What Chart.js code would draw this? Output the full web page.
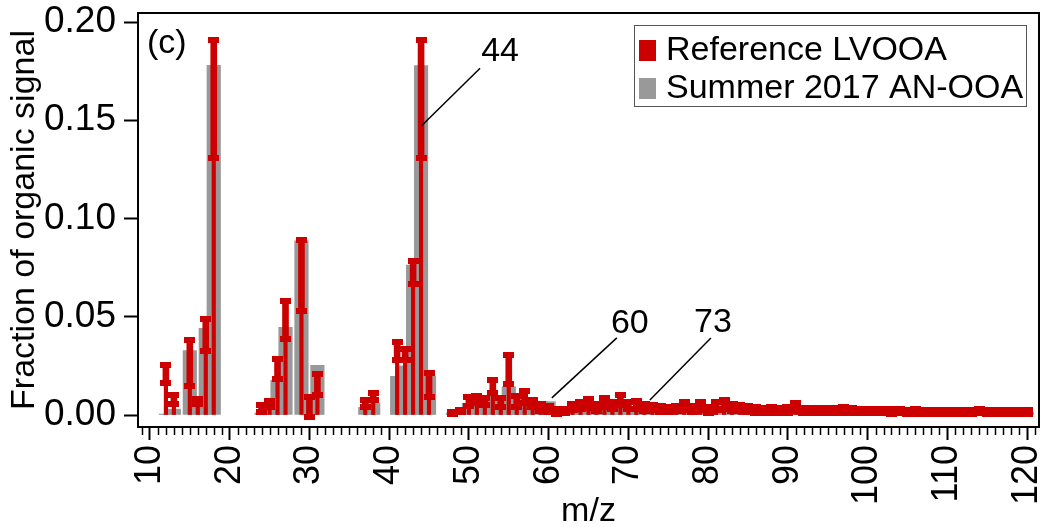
<!DOCTYPE html>
<html>
<head>
<meta charset="utf-8">
<script src="https://cdn.jsdelivr.net/npm/chart.js@4.4.1/dist/chart.umd.min.js"></script>
<style>
  html, body { margin: 0; padding: 0; background: #ffffff; }
  #wrap { width: 1045px; height: 527px; }
</style>
</head>
<body>
<div id="wrap"><canvas id="chart" width="1045" height="527"></canvas></div>
<script>
// m/z channels shown in the spectrum
const mz = [12, 13, 15, 16, 17, 18, 24, 25, 26, 27, 29, 30, 31, 37, 38, 41, 42, 43, 44, 45,
  48, 49, 50, 51, 52, 53, 54, 55, 56, 57, 58, 59, 60, 61, 62, 63, 64, 65, 66, 67, 68, 69, 70, 71,
  72, 73, 74, 75, 76, 77, 78, 79, 80, 81, 82, 83, 84, 85, 86, 87, 88, 89, 90, 91, 92, 93, 94, 95,
  96, 97, 98, 99, 100, 101, 102, 103, 104, 105, 106, 107, 108, 109, 110, 111, 112, 113, 114, 115,
  116, 117, 118, 119, 120];

// Reference LVOOA spectrum: mean fraction and standard deviation
const lvooaMean = [0.0209, 0.0078, 0.0265, 0.0068, 0.0408, 0.1610, 0.0034, 0.0057, 0.0234, 0.0482,
  0.0711, 0.0040, 0.0156, 0.0059, 0.0095, 0.0325, 0.0308, 0.0726, 0.1610, 0.0154,
  0.0010, 0.0020, 0.0070, 0.0078, 0.0068, 0.0144, 0.0063, 0.0230, 0.0068, 0.0090, 0.0059, 0.0038,
  0.0030, 0.0018, 0.0020, 0.0040, 0.0048, 0.0058, 0.0038, 0.0063, 0.0048, 0.0075, 0.0049, 0.0050,
  0.0038, 0.0039, 0.0030, 0.0028, 0.0033, 0.0045, 0.0030, 0.0045, 0.0025, 0.0045, 0.0053, 0.0038,
  0.0034, 0.0030, 0.0026, 0.0023, 0.0026, 0.0023, 0.0026, 0.0040, 0.0024, 0.0023, 0.0023, 0.0023,
  0.0025, 0.0026, 0.0023, 0.0019, 0.0020, 0.0019, 0.0020, 0.0018, 0.0019, 0.0017, 0.0018, 0.0017,
  0.0017, 0.0016, 0.0017, 0.0016, 0.0016, 0.0017, 0.0019, 0.0015, 0.0015, 0.0014, 0.0014, 0.0014,
  0.0014];
const lvooaSd = [0.0047, 0.0024, 0.0119, 0.0012, 0.0080, 0.0300, 0.0017, 0.0015, 0.0049, 0.0096,
  0.0180, 0.0050, 0.0055, 0.0017, 0.0019, 0.0047, 0.0027, 0.0059, 0.0300, 0.0060,
  0.0005, 0.0005, 0.0023, 0.0018, 0.0018, 0.0032, 0.0023, 0.0074, 0.0028, 0.0030, 0.0019, 0.0018,
  0.0015, 0.0013, 0.0010, 0.0015, 0.0018, 0.0023, 0.0018, 0.0023, 0.0018, 0.0025, 0.0019, 0.0020,
  0.0018, 0.0014, 0.0015, 0.0013, 0.0013, 0.0020, 0.0015, 0.0020, 0.0015, 0.0020, 0.0023, 0.0018,
  0.0016, 0.0015, 0.0014, 0.0013, 0.0014, 0.0013, 0.0014, 0.0020, 0.0014, 0.0013, 0.0013, 0.0013,
  0.0013, 0.0014, 0.0013, 0.0011, 0.0012, 0.0011, 0.0012, 0.0011, 0.0011, 0.0011, 0.0011, 0.0011,
  0.0011, 0.0011, 0.0011, 0.0011, 0.0011, 0.0011, 0.0011, 0.0010, 0.0010, 0.0010, 0.0010, 0.0010,
  0.0010];

// Summer 2017 AN-OOA factor profile
const anOoa = [0.0005, 0.0030, 0.0328, 0.0040, 0.0441, 0.1780, 0.0010, 0.0034, 0.0177, 0.0446,
  0.0887, 0.0030, 0.0253, 0.0039, 0.0059, 0.0197, 0.0250, 0.0763, 0.1778, 0.0198,
  0.0010, 0.0020, 0.0060, 0.0070, 0.0060, 0.0100, 0.0070, 0.0144, 0.0080, 0.0080, 0.0060, 0.0070,
  0.0068, 0.0020, 0.0020, 0.0030, 0.0040, 0.0050, 0.0040, 0.0050, 0.0040, 0.0060, 0.0040, 0.0040,
  0.0035, 0.0035, 0.0028, 0.0026, 0.0030, 0.0040, 0.0028, 0.0040, 0.0024, 0.0040, 0.0048, 0.0035,
  0.0032, 0.0028, 0.0024, 0.0021, 0.0024, 0.0021, 0.0024, 0.0035, 0.0022, 0.0021, 0.0021, 0.0021,
  0.0023, 0.0024, 0.0021, 0.0018, 0.0019, 0.0018, 0.0019, 0.0017, 0.0018, 0.0016, 0.0017, 0.0016,
  0.0016, 0.0015, 0.0016, 0.0015, 0.0015, 0.0016, 0.0018, 0.0014, 0.0014, 0.0013, 0.0013, 0.0013,
  0.0013];

const xTicks = [10, 20, 30, 40, 50, 60, 70, 80, 90, 100, 110, 120];
const yTicks = [0, 0.05, 0.10, 0.15, 0.20];

const seriesNames = ['Reference LVOOA', 'Summer 2017 AN-OOA'];
const peakNames = ['44', '60', '73'];
const peakMz = [44, 60.4, 72.7];
const peakValue = [0.147, 0.0087, 0.0076];
const panelTag = '(c)';

const RED = '#cc0000';
const GRAY = '#999999';
const FONT = '"Liberation Sans", Arial, Helvetica, sans-serif';

// small rectangular cap marker for the error bars
const capMark = document.createElement('canvas');
capMark.width = 11; capMark.height = 6;
(function () { const g = capMark.getContext('2d'); g.fillStyle = RED; g.fillRect(0, 0, 11, 6); })();

const lo = mz.map((m, i) => lvooaMean[i] - lvooaSd[i]);
const hi = mz.map((m, i) => lvooaMean[i] + lvooaSd[i]);

const grayBars = mz.map((m, i) => ({ x: m, y: anOoa[i] }));
const redSticks = mz.map((m, i) => ({ x: m, y: [0, lvooaMean[i]] }));
const redErr = mz.map((m, i) => ({ x: m, y: [lo[i], hi[i]] }));
const redCaps = mz.flatMap((m, i) => [{ x: m, y: lo[i] }, { x: m, y: hi[i] }]);

// no extra edge padding, so the plot box keeps its full size
function noEdgePadding(s) {
  s.paddingLeft = 0; s.paddingRight = 0; s.paddingTop = 0; s.paddingBottom = 0;
}

// box, minor ticks, legend and peak labels
const decor = {
  id: 'decor',
  afterDraw(chart) {
    const ctx = chart.ctx;
    const a = chart.chartArea;
    const xs = chart.scales.x, ys = chart.scales.y;
    ctx.save();

    // minor x ticks every unit
    ctx.strokeStyle = '#000'; ctx.lineWidth = 1.5;
    for (let v = Math.ceil(xs.min); v <= Math.floor(xs.max); v++) {
      if (v % 10 === 0) continue;
      const px = Math.round(xs.getPixelForValue(v)) + 0.5;
      ctx.beginPath(); ctx.moveTo(px, a.bottom); ctx.lineTo(px, a.bottom + 8); ctx.stroke();
    }

    // frame
    ctx.lineWidth = 2; ctx.strokeStyle = '#000';
    ctx.strokeRect(a.left, a.top, a.right - a.left, a.bottom - a.top);

    // panel tag
    ctx.fillStyle = '#000';
    ctx.font = '34px ' + FONT;
    ctx.textBaseline = 'middle'; ctx.textAlign = 'left';
    ctx.fillText(panelTag, a.left + 9, a.top + 31);

    // peak annotations
    ctx.lineWidth = 1.5;
    const dx = [59, 65, 61], dy = [-58, -60, -62];
    const tx = [79, 78, 63], ty = [-75, -74, -77];
    peakNames.forEach((name, i) => {
      const px = xs.getPixelForValue(peakMz[i]);
      const py = ys.getPixelForValue(peakValue[i]);
      ctx.beginPath(); ctx.moveTo(px, py); ctx.lineTo(px + dx[i], py + dy[i]); ctx.stroke();
      ctx.textAlign = 'center';
      ctx.fillText(name, px + tx[i], py + ty[i]);
    });

    // legend
    const lx = a.right - 405, ly = a.top + 12, lw = 392, lh = 81;
    ctx.fillStyle = '#fff'; ctx.fillRect(lx, ly, lw, lh);
    ctx.strokeStyle = '#555'; ctx.lineWidth = 1;
    ctx.strokeRect(lx + 0.5, ly + 0.5, lw, lh);
    const colors = [RED, GRAY];
    seriesNames.forEach((name, i) => {
      const cy = ly + 25 + i * 38;
      ctx.fillStyle = colors[i];
      ctx.fillRect(lx + 5, cy - 10, 17, 21);
      ctx.fillStyle = '#000';
      ctx.textAlign = 'left'; ctx.textBaseline = 'middle';
      ctx.fillText(name, lx + 32, cy + 1);
    });
    ctx.restore();
  }
};

new Chart(document.getElementById('chart'), {
  type: 'bar',
  data: {
    datasets: [
      { label: seriesNames[1], data: grayBars, backgroundColor: GRAY, barThickness: 13.5, grouped: false, order: 4 },
      { label: seriesNames[0], data: redSticks, backgroundColor: RED, barThickness: 3.5, grouped: false, order: 3 },
      { label: seriesNames[0], data: redErr, backgroundColor: RED, barThickness: 6, grouped: false, order: 2 },
      { type: 'scatter', label: seriesNames[0], data: redCaps, pointStyle: capMark, pointRadius: 5,
        showLine: false, order: 1 }
    ]
  },
  options: {
    responsive: false,
    animation: false,
    devicePixelRatio: 1,
    layout: { padding: { top: 13, right: 4, left: 0, bottom: 0 } },
    plugins: { legend: { display: false }, tooltip: { enabled: false } },
    scales: {
      x: {
        type: 'linear', min: 8.5, max: 121.5, offset: false,
        afterBuildTicks: (s) => { s.ticks = xTicks.map(v => ({ value: v })); },
        afterFit: (s) => { s.height = 100; noEdgePadding(s); },
        grid: { drawOnChartArea: false, offset: false, tickLength: 13, tickWidth: 2, tickColor: '#000' },
        border: { display: false },
        ticks: { autoSkip: false, minRotation: 90, maxRotation: 90, padding: 5, color: '#000',
          font: { family: FONT, size: 36 } },
        title: { display: true, text: 'm/z', color: '#000', padding: { top: 0, bottom: -5 },
          font: { family: FONT, size: 34 } }
      },
      y: {
        min: -0.0061, max: 0.2046,
        afterBuildTicks: (s) => { s.ticks = yTicks.map(v => ({ value: v })); },
        afterFit: (s) => { s.width = 138; noEdgePadding(s); },
        grid: { drawOnChartArea: false, tickLength: 14, tickWidth: 2, tickColor: '#000' },
        border: { display: false },
        ticks: { padding: 8, color: '#000', callback: (v) => Number(v).toFixed(2),
          font: { family: FONT, size: 37 } },
        title: { display: true, text: 'Fraction of organic signal', color: '#000', padding: { top: 4, bottom: 0 },
          font: { family: FONT, size: 34 } }
      }
    }
  },
  plugins: [decor]
});
</script>
</body>
</html>
